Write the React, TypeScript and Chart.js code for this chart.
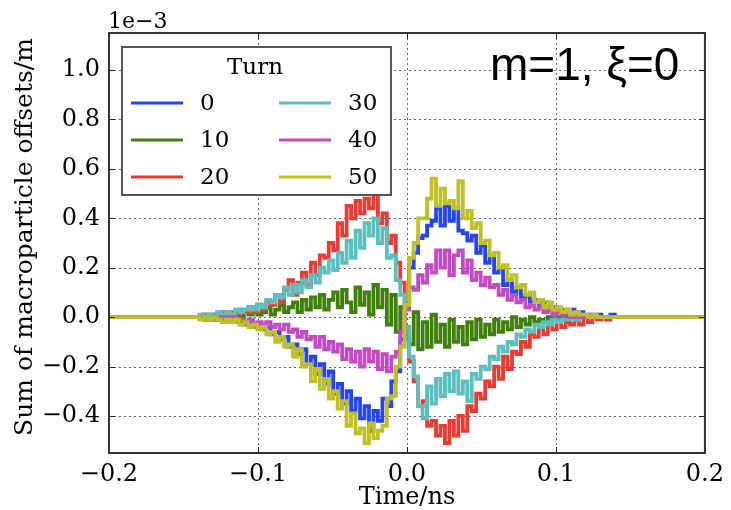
import React, { useEffect, useRef } from "react";
import { Chart, registerables } from "chart.js";

Chart.register(...registerables);

// Bin centres of the histogram (ns)
const TIME = [
  -0.150, -0.147, -0.144, -0.141, -0.138, -0.135, -0.132, -0.129, -0.126, -0.123,
  -0.120, -0.117, -0.114, -0.111, -0.108, -0.105, -0.102, -0.099, -0.096, -0.093,
  -0.090, -0.087, -0.084, -0.081, -0.078, -0.075, -0.072, -0.069, -0.066, -0.063,
  -0.060, -0.057, -0.054, -0.051, -0.048, -0.045, -0.042, -0.039, -0.036, -0.033,
  -0.030, -0.027, -0.024, -0.021, -0.018, -0.015, -0.012, -0.009, -0.006, -0.003,
  0.000, 0.003, 0.006, 0.009, 0.012, 0.015, 0.018, 0.021, 0.024, 0.027,
  0.030, 0.033, 0.036, 0.039, 0.042, 0.045, 0.048, 0.051, 0.054, 0.057,
  0.060, 0.063, 0.066, 0.069, 0.072, 0.075, 0.078, 0.081, 0.084, 0.087,
  0.090, 0.093, 0.096, 0.099, 0.102, 0.105, 0.108, 0.111, 0.114, 0.117,
  0.120, 0.123, 0.126, 0.129, 0.132, 0.135, 0.138, 0.141, 0.144, 0.147,
  0.150,
];

// Values in units of 1e-5 m (hundredths of the 1e-3 offset)
const TURN_0 = [
  0, 0, 0, 0, 0, -1, 0, -1, 0, -1,
  -1, -2, -1, -2, -3, -2, -4, -3, -5, -4,
  -7, -6, -9, -8, -12, -11, -15, -13, -19, -16,
  -23, -19, -27, -22, -31, -27, -35, -30, -38, -33,
  -41, -36, -46, -38, -42, -33, -36, -26, -22, -9,
  6, 20, 26, 32, 33, 37, 39, 44, 37, 45,
  39, 44, 35, 34, 31, 33, 26, 29, 22, 25,
  18, 20, 13, 15, 10, 12, 8, 9, 6, 7,
  4, 6, 3, 4, 2, 3, 1, 3, 1, 2,
  0, 1, 0, 1, 0, 0, 1, 0, 0, 0,
  0,
];
const TURN_10 = [
  0, 0, 0, 0, 0, 1, 0, 1, 0, 1,
  0, 1, 2, 0, 2, 1, 3, 1, 2, 4,
  1, 3, 5, 2, 4, 6, 2, 7, 3, 8,
  4, 9, 3, 7, 10, 4, 11, 6, 2, 12,
  5, 10, 1, 13, 4, 11, -3, 9, -6, 4,
  -7, -11, 2, -13, -2, -12, 1, -10, -3, -12,
  -1, -10, -4, -11, -2, -9, -1, -8, -3, -7,
  -1, -6, -2, -5, 0, -4, -1, -3, 0, -2,
  -1, -2, 0, -1, 0, -1, 0, 0, 0, 0,
  0, 0, 0, 0, 0, 0, 0, 0, 0, 0,
  0,
];
const TURN_20 = [
  0, 0, 0, 0, 0, 1, 0, 1, 0, 2,
  1, 2, 1, 3, 2, 4, 2, 5, 3, 6,
  5, 9, 6, 11, 15, 9, 14, 18, 13, 22,
  17, 25, 24, 30, 27, 38, 33, 45, 40, 47,
  42, 48, 44, 50, 38, 42, 30, 33, 22, 14,
  -6, -18, -26, -36, -34, -44, -42, -48, -44, -51,
  -42, -48, -40, -46, -36, -38, -31, -33, -26, -28,
  -20, -25, -16, -21, -14, -15, -10, -12, -7, -8,
  -4, -7, -3, -5, -2, -4, -2, -3, -1, -3,
  0, -2, 0, -1, 0, -1, 0, 0, 0, 0,
  0,
];
const TURN_30 = [
  0, 0, 0, 0, 1, 0, 1, 0, 2, 1,
  2, 1, 3, 2, 3, 4, 3, 5, 4, 7,
  6, 9, 8, 12, 9, 13, 10, 15, 12, 17,
  14, 20, 18, 23, 19, 26, 22, 31, 24, 35,
  28, 38, 33, 40, 30, 36, 24, 25, 15, 9,
  -4, -16, -24, -36, -41, -28, -35, -25, -32, -23,
  -30, -22, -31, -26, -34, -23, -25, -20, -21, -16,
  -17, -12, -14, -10, -11, -7, -8, -5, -6, -3,
  -4, -2, -3, -1, -2, -1, -1, 0, -1, 0,
  0, 0, 0, 0, 0, 0, 0, 0, 0, 0,
  0,
];
const TURN_40 = [
  0, 0, 0, 0, 0, 0, -1, 0, -1, 0,
  -1, 0, -2, -1, -2, -1, -3, -2, -3, -2,
  -4, -3, -5, -3, -6, -5, -8, -6, -9, -8,
  -12, -8, -13, -10, -14, -11, -17, -13, -18, -14,
  -20, -13, -18, -14, -21, -15, -22, -16, -14, -6,
  3, 12, 11, 17, 14, 21, 18, 27, 20, 27,
  17, 25, 27, 18, 23, 15, 18, 13, 16, 12,
  13, 9, 11, 7, 9, 6, 7, 4, 5, 3,
  4, 2, 3, 1, 2, 1, 1, 0, 1, 0,
  0, 0, 0, 0, 0, 0, 0, 0, 0, 0,
  0,
];
const TURN_50 = [
  0, 0, 0, 0, -1, 0, -1, 0, -1, -2,
  -1, -2, -1, -3, -2, -4, -3, -5, -4, -7,
  -6, -10, -8, -12, -11, -16, -13, -20, -19, -26,
  -21, -29, -25, -33, -30, -37, -34, -44, -39, -47,
  -45, -51, -43, -49, -46, -44, -33, -32, -20, -12,
  5, 24, 30, 40, 40, 48, 56, 45, 52, 46,
  47, 44, 55, 40, 43, 36, 38, 30, 31, 25,
  26, 20, 21, 15, 17, 12, 13, 9, 10, 6,
  7, 4, 6, 3, 4, 2, 3, 1, 2, 1,
  1, 0, 1, 0, 0, 0, 0, 0, 0, 0,
  0,
];

const TURN_LABELS = ["0", "10", "20", "30", "40", "50"];
const SERIES = [TURN_0, TURN_10, TURN_20, TURN_30, TURN_40, TURN_50];
const COLORS = ["#2445f5", "#3f7f0c", "#e63c32", "#5bbfbd", "#c24bc4", "#bfbf26"];

const UNIT = 1e-5; // value unit (m)
const X_MIN = -0.2;
const X_MAX = 0.2;
const Y_MIN = -0.55e-3;
const Y_MAX = 1.15e-3;
const X_TICKS = [-0.2, -0.1, 0.0, 0.1, 0.2];
const Y_TICKS = [-0.4, -0.2, 0.0, 0.2, 0.4, 0.6, 0.8, 1.0]; // ×1e-3
const OFFSET_TEXT = "1e\u22123";
const X_TITLE = "Time/ns";
const Y_TITLE = "Sum of macroparticle offsets/m";
const LEGEND_TITLE = "Turn";
const ANNOTATION = "m=1, \u03BE=0";

const SERIF = "'DejaVu Serif', serif";
const SANS = "'Liberation Sans', Arial, sans-serif";

const fmt = (v: number) => {
  if (Math.abs(v) < 1e-9) return "0.0";
  const s = Math.abs(v).toFixed(1);
  return v < 0 ? "\u2212" + s : s;
};

const decor = {
  id: "decor",
  beforeDatasetsDraw(chart: any) {
    const { ctx, chartArea: a, scales } = chart;
    ctx.save();
    ctx.strokeStyle = "rgba(0,0,0,0.6)";
    ctx.lineWidth = 1;
    ctx.setLineDash([2, 3]);
    for (const t of X_TICKS) {
      const x = Math.round(scales.x.getPixelForValue(t)) + 0.5;
      ctx.beginPath();
      ctx.moveTo(x, a.top);
      ctx.lineTo(x, a.bottom);
      ctx.stroke();
    }
    for (const t of Y_TICKS) {
      const y = Math.round(scales.y.getPixelForValue(t * 1e-3)) + 0.5;
      ctx.beginPath();
      ctx.moveTo(a.left, y);
      ctx.lineTo(a.right, y);
      ctx.stroke();
    }
    ctx.restore();
  },
  afterDraw(chart: any) {
    const { ctx, chartArea: a, scales } = chart;
    ctx.save();
    // inward ticks
    ctx.strokeStyle = "#222";
    ctx.lineWidth = 1;
    for (const t of X_TICKS) {
      const x = Math.round(scales.x.getPixelForValue(t)) + 0.5;
      ctx.beginPath();
      ctx.moveTo(x, a.bottom);
      ctx.lineTo(x, a.bottom - 6);
      ctx.moveTo(x, a.top);
      ctx.lineTo(x, a.top + 6);
      ctx.stroke();
    }
    for (const t of Y_TICKS) {
      const y = Math.round(scales.y.getPixelForValue(t * 1e-3)) + 0.5;
      ctx.beginPath();
      ctx.moveTo(a.left, y);
      ctx.lineTo(a.left + 6, y);
      ctx.moveTo(a.right, y);
      ctx.lineTo(a.right - 6, y);
      ctx.stroke();
    }
    // frame
    ctx.strokeStyle = "#333";
    ctx.lineWidth = 2;
    ctx.strokeRect(a.left, a.top, a.right - a.left, a.bottom - a.top);

    // legend
    const lx = a.left + 13;
    const ly = a.top + 14;
    const lw = 269;
    const lh = 148;
    ctx.fillStyle = "#fff";
    ctx.fillRect(lx, ly, lw, lh);
    ctx.strokeStyle = "#555";
    ctx.lineWidth = 2;
    ctx.strokeRect(lx, ly, lw, lh);
    ctx.fillStyle = "#000";
    ctx.font = `23px ${SERIF}`;
    ctx.textAlign = "center";
    ctx.textBaseline = "middle";
    ctx.fillText(LEGEND_TITLE, lx + 133, ly + 21);
    ctx.textAlign = "left";
    TURN_LABELS.forEach((lab, i) => {
      const col = Math.floor(i / 3);
      const row = i % 3;
      const x0 = lx + 9 + col * 148;
      const y0 = ly + 56 + row * 37;
      ctx.strokeStyle = COLORS[i];
      ctx.lineWidth = 3;
      ctx.beginPath();
      ctx.moveTo(x0, y0);
      ctx.lineTo(x0 + 52, y0);
      ctx.stroke();
      ctx.fillStyle = "#000";
      ctx.fillText(lab, x0 + 69, y0 + 1);
    });

    // annotation
    ctx.font = `46px ${SANS}`;
    ctx.textAlign = "left";
    ctx.textBaseline = "alphabetic";
    ctx.fillText(ANNOTATION, 490, 80);

    // offset text
    ctx.font = `22px ${SERIF}`;
    ctx.fillText(OFFSET_TEXT, a.left - 1, 28);

    // x title
    ctx.font = `24px ${SERIF}`;
    ctx.textAlign = "center";
    ctx.fillText(X_TITLE, (a.left + a.right) / 2, 504);

    // y title
    ctx.translate(25, 237);
    ctx.rotate(-Math.PI / 2);
    ctx.font = `25px ${SERIF}`;
    ctx.textBaseline = "middle";
    ctx.fillText(Y_TITLE, 0, 0);
    ctx.restore();
  },
};

export default function App() {
  const ref = useRef<HTMLCanvasElement | null>(null);
  useEffect(() => {
    if (!ref.current) return;
    const datasets = SERIES.map((vals, k) => ({
      label: TURN_LABELS[k],
      data: [
        { x: X_MIN, y: 0 },
        ...TIME.map((t, i) => ({ x: t, y: vals[i] * UNIT })),
        { x: X_MAX, y: 0 },
      ],
      borderColor: COLORS[k],
      backgroundColor: COLORS[k],
      borderWidth: 3.8,
      pointRadius: 0,
      stepped: "middle" as const,
      fill: false,
      order: SERIES.length - 1 - k,
    }));
    const chart = new Chart(ref.current, {
      type: "line",
      data: { datasets },
      options: {
        animation: false,
        responsive: false,
        devicePixelRatio: 1,
        layout: { padding: { top: 33, right: 20, left: 0, bottom: 0 } },
        plugins: { legend: { display: false }, tooltip: { enabled: false } },
        scales: {
          x: {
            type: "linear",
            min: X_MIN,
            max: X_MAX,
            afterBuildTicks: (s: any) => {
              s.ticks = X_TICKS.map((v) => ({ value: v }));
            },
            afterFit: (s: any) => {
              s.height = 57;
            },
            grid: { display: false, drawTicks: false },
            border: { display: false },
            ticks: {
              autoSkip: false,
              maxRotation: 0,
              padding: 7,
              color: "#000",
              font: { family: SERIF, size: 24 },
              callback: (v: any) => fmt(Number(v)),
            },
          },
          y: {
            type: "linear",
            min: Y_MIN,
            max: Y_MAX,
            afterBuildTicks: (s: any) => {
              s.ticks = Y_TICKS.map((v) => ({ value: v * 1e-3 }));
            },
            afterFit: (s: any) => {
              s.width = 109;
            },
            grid: { display: false, drawTicks: false },
            border: { display: false },
            ticks: {
              autoSkip: false,
              padding: 9,
              color: "#000",
              font: { family: SERIF, size: 24 },
              callback: (v: any) => fmt(Number(v) * 1000),
            },
          },
        },
      },
      plugins: [decor],
    });
    return () => chart.destroy();
  }, []);
  return (
    <div style={{ position: "fixed", left: 0, top: 0, width: 731, height: 510, background: "#fff" }}>
      <canvas ref={ref} width={731} height={510} style={{ width: 731, height: 510 }} />
    </div>
  );
}
